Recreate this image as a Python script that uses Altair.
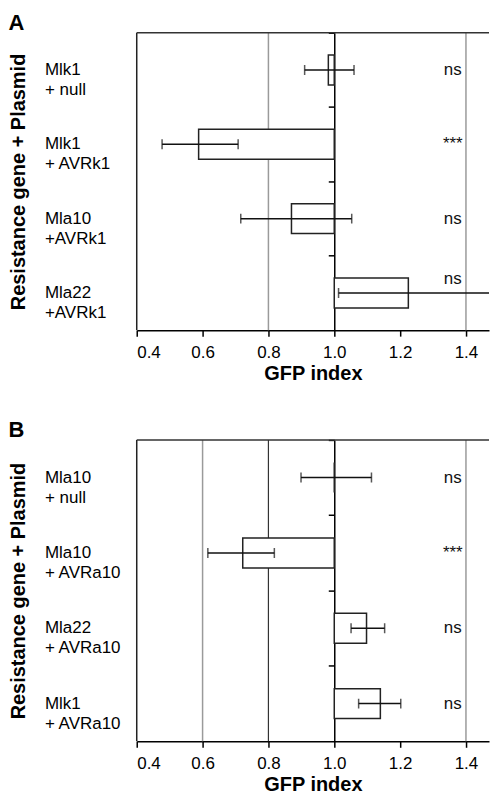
import altair as alt
import pandas as pd

# ---------------- data ----------------
X_TICKS = [0.4, 0.6, 0.8, 1.0, 1.2, 1.4]
X_DOMAIN = [0.4, 1.47]
BASELINE = 1.0
SIG_X = 1.36

# Panel A
a_labels = ["Mlk1|+ null", "Mlk1|+ AVRk1", "Mla10|+AVRk1", "Mla22|+AVRk1"]
a_values = [0.982, 0.588, 0.870, 1.225]
a_err_lo = [0.910, 0.477, 0.716, 1.013]
a_err_hi = [1.060, 0.708, 1.053, 1.488]
a_sig = ["ns", "***", "ns", "ns"]
a_grid_gray = [0.8, 1.4]
a_grid_dark = []

# Panel B
b_labels = ["Mla10|+ null", "Mla10|+ AVRa10", "Mla22|+ AVRa10", "Mlk1|+ AVRa10"]
b_values = [1.000, 0.722, 1.098, 1.140]
b_err_lo = [0.899, 0.616, 1.051, 1.074]
b_err_hi = [1.113, 0.818, 1.153, 1.202]
b_sig = ["ns", "***", "ns", "ns"]
b_grid_gray = [0.6, 1.4]
b_grid_dark = [0.8]

WIDTH = 353
FONT = "Liberation Sans"


def panel(letter, labels, values, lo, hi, sig, grid_gray, grid_dark, height):
    df = pd.DataFrame({"cond": labels, "value": values, "lo": lo, "hi": hi, "sig": sig})
    df["base"] = BASELINE
    df["raised"] = df["hi"] > SIG_X

    xs = alt.Scale(domain=X_DOMAIN, nice=False, zero=False)
    ys = alt.Scale(paddingInner=0, paddingOuter=0)
    one_pos = (BASELINE - X_DOMAIN[0]) / (X_DOMAIN[1] - X_DOMAIN[0]) * WIDTH

    x_axis = alt.Axis(
        values=X_TICKS, format=".1f", grid=False,
        domainColor="black", domainWidth=1.5,
        tickColor="black", tickWidth=1.5, tickSize=6,
        labelFontSize=17, labelPadding=8, labelColor="black",
        title="GFP index", titleFontSize=20, titleFontWeight="bold",
        titlePadding=3, titleColor="black",
    )
    y_axis = alt.Axis(
        title="Resistance gene + Plasmid", titleFontSize=20, titleFontWeight="bold",
        titleAngle=270, titleX=-(one_pos + 118.5), titleY=height / 2,
        titleAlign="center", titleBaseline="middle", titleColor="black",
        labelExpr="split(datum.label, '|')", labelAlign="left", labelBaseline="middle",
        labelFontSize=17, labelLineHeight=20, labelColor="black",
        labelPadding=one_pos + 92.5 - 6, labelLimit=0,
        tickSize=6, tickColor="black", tickWidth=1.5, bandPosition=0,
        offset=-one_pos, domainColor="black", domainWidth=1.5, grid=False,
    )

    def X(field):
        return alt.X(field, type="quantitative", scale=xs, axis=x_axis)

    y = alt.Y("cond:N", sort=labels, scale=ys, axis=y_axis)

    layers = []
    if grid_gray:
        layers.append(alt.Chart(pd.DataFrame({"g": grid_gray})).mark_rule(
            color="#9a9a9a", strokeWidth=1.5).encode(x=X("g")))
    if grid_dark:
        layers.append(alt.Chart(pd.DataFrame({"g": grid_dark})).mark_rule(
            color="#333333", strokeWidth=1.2).encode(x=X("g")))
    # frame: left border at domain start, top border
    layers.append(alt.Chart(pd.DataFrame({"g": [X_DOMAIN[0]]})).mark_rule(
        color="#222", strokeWidth=1.5).encode(x=X("g")))
    layers.append(alt.Chart(pd.DataFrame({"g": [X_DOMAIN[0]]})).mark_rule(
        color="#333", strokeWidth=1.5).encode(y=alt.value(0)))

    base = alt.Chart(df)
    bars = base.mark_bar(fill="white", stroke="#222", strokeWidth=1.5, size=30).encode(
        x=X("value"), x2="base:Q", y=y)
    err = base.mark_rule(color="#111", strokeWidth=1.5, clip=True).encode(
        x=X("lo"), x2="hi:Q", y=y)
    cap_lo = base.mark_tick(color="#111", thickness=1.5, size=10, clip=True).encode(
        x=X("lo"), y=y)
    cap_hi = base.mark_tick(color="#111", thickness=1.5, size=10, clip=True).encode(
        x=X("hi"), y=y)
    txt = base.mark_text(fontSize=17, align="center", baseline="middle", color="#111").encode(
        x=alt.datum(SIG_X), y=y, text="sig:N").transform_filter("!datum.raised")
    txt_up = base.mark_text(fontSize=17, align="center", baseline="middle", color="#111",
                            dy=-14).encode(
        x=alt.datum(SIG_X), y=y, text="sig:N").transform_filter("datum.raised")
    layers += [bars, err, cap_lo, cap_hi, txt, txt_up]

    return alt.layer(*layers).properties(
        width=WIDTH, height=height,
        title=alt.TitleParams(letter, anchor="start", frame="bounds", fontSize=22,
                              fontWeight="bold", offset=-3, color="black"),
    )


pa = panel("A", a_labels, a_values, a_err_lo, a_err_hi, a_sig, a_grid_gray, a_grid_dark, 298)
pb = panel("B", b_labels, b_values, b_err_lo, b_err_hi, b_sig, b_grid_gray, b_grid_dark, 302)

chart = alt.vconcat(pa, pb, spacing=36).properties(
    padding={"left": 0, "top": 3, "right": 0, "bottom": 0}
).configure(font=FONT).configure_view(stroke=None)

chart.save("out.html", embed_options={"renderer": "svg", "actions": False})
